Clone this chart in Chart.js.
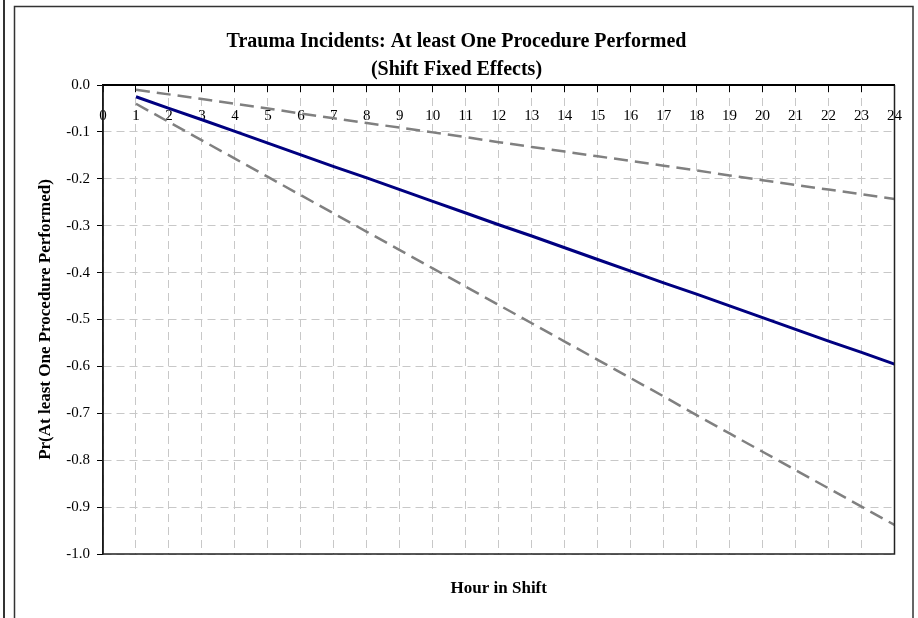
<!DOCTYPE html>
<html>
<head>
<meta charset="utf-8">
<script src="https://cdn.jsdelivr.net/npm/chart.js@4/dist/chart.umd.min.js"></script>
<style>
  html, body { margin: 0; padding: 0; background: #fff; }
  #wrap { width: 918px; height: 618px; position: relative; }
</style>
</head>
<body>
<div id="wrap"><canvas id="chart"></canvas></div>
<script>
const hours = [1, 2, 3, 4, 5, 6, 7, 8, 9, 10, 11, 12, 13, 14, 15, 16, 17, 18, 19, 20, 21, 22, 23, 24];
const estimate = [-0.025, -0.050, -0.074, -0.099, -0.124, -0.149, -0.174, -0.198, -0.223, -0.248, -0.273, -0.298,
  -0.322, -0.347, -0.372, -0.397, -0.422, -0.446, -0.471, -0.496, -0.521, -0.546, -0.570, -0.595];
const upperBound = [-0.010, -0.020, -0.030, -0.040, -0.050, -0.061, -0.071, -0.081, -0.091, -0.101, -0.111, -0.122,
  -0.132, -0.142, -0.152, -0.162, -0.172, -0.182, -0.193, -0.203, -0.213, -0.223, -0.233, -0.243];
const lowerBound = [-0.040, -0.079, -0.118, -0.157, -0.196, -0.235, -0.274, -0.313, -0.352, -0.391, -0.430, -0.469,
  -0.508, -0.547, -0.586, -0.625, -0.664, -0.704, -0.743, -0.782, -0.821, -0.860, -0.899, -0.938];
const xTicks = [0, 1, 2, 3, 4, 5, 6, 7, 8, 9, 10, 11, 12, 13, 14, 15, 16, 17, 18, 19, 20, 21, 22, 23, 24];
const yTicks = [0, -0.1, -0.2, -0.3, -0.4, -0.5, -0.6, -0.7, -0.8, -0.9, -1.0];

const serif = "'Liberation Serif', 'DejaVu Serif', serif";

function toPoints(vals) {
  return vals.map((v, i) => ({ x: hours[i], y: v }));
}

// outer frame + plot box
const framePlugin = {
  id: "frame",
  beforeDraw(chart) {
    const c = chart.ctx;
    c.save();
    c.fillStyle = "#fff";
    c.fillRect(0, 0, chart.width, chart.height);
    c.strokeStyle = "#333";
    c.lineWidth = 2;
    c.beginPath();
    c.moveTo(4, 0); c.lineTo(4, chart.height);
    c.stroke();
    c.lineWidth = 1.5;
    c.strokeRect(14.5, 6.5, 898.5, 700);
    c.restore();
  },
  afterDraw(chart) {
    const a = chart.chartArea;
    const c = chart.ctx;
    c.save();
    c.setLineDash([]);
    c.strokeStyle = "#222";
    c.lineWidth = 1.5;
    c.beginPath();
    c.moveTo(a.left, a.top); c.lineTo(a.left, a.bottom); c.lineTo(a.right, a.bottom); c.lineTo(a.right, a.top);
    c.stroke();
    c.strokeStyle = "#000";
    c.lineWidth = 2;
    c.beginPath();
    c.moveTo(a.left, a.top); c.lineTo(a.right, a.top);
    c.stroke();
    c.restore();
  }
};

new Chart(document.getElementById("chart").getContext("2d"), {
  type: "line",
  data: {
    datasets: [
      {
        label: "Estimate",
        data: toPoints(estimate),
        borderColor: "#000080",
        borderWidth: 3,
        pointRadius: 0,
        tension: 0
      },
      {
        label: "Upper",
        data: toPoints(upperBound),
        borderColor: "#808080",
        borderWidth: 2.5,
        borderDash: [14, 7],
        pointRadius: 0,
        tension: 0
      },
      {
        label: "Lower",
        data: toPoints(lowerBound),
        borderColor: "#808080",
        borderWidth: 2.5,
        borderDash: [14, 7],
        pointRadius: 0,
        tension: 0
      }
    ]
  },
  options: {
    responsive: true,
    maintainAspectRatio: false,
    animation: false,
    layout: { padding: { left: 14, right: 19, top: 0, bottom: 0 } },
    plugins: {
      legend: { display: false },
      tooltip: { enabled: false },
      title: {
        display: true,
        text: ["Trauma Incidents: At least One Procedure Performed", "(Shift Fixed Effects)"],
        color: "#000",
        font: { family: serif, size: 20, weight: "bold", lineHeight: 1.4 },
        padding: { top: 28, bottom: 1 }
      }
    },
    scales: {
      x: {
        type: "linear",
        position: { y: 0 },
        min: 0,
        max: 24,
        afterBuildTicks: s => { s.ticks = xTicks.map(v => ({ value: v })); },
        afterFit: s => { s.height = 0; },
        ticks: {
          autoSkip: false,
          maxRotation: 0,
          padding: 16,
          color: "#000",
          font: { family: serif, size: 15 }
        },
        grid: {
          color: "#c8c8c8",
          tickColor: "#000",
          tickBorderDash: [],
          tickLength: 6
        },
        border: { color: "#000", width: 2, dash: [8, 5] }
      },
      xb: {
        type: "linear",
        position: "bottom",
        min: 0,
        max: 24,
        ticks: { display: false },
        grid: { display: false },
        border: { display: false },
        afterFit: s => { s.height = 64; },
        title: {
          display: true,
          text: "Hour in Shift",
          color: "#000",
          font: { family: serif, size: 17, weight: "bold" },
          padding: { top: 0, bottom: 19 }
        }
      },
      y: {
        min: -1,
        max: 0,
        afterBuildTicks: s => { s.ticks = yTicks.map(v => ({ value: v })); },
        afterFit: s => { s.width = 89; },
        ticks: {
          padding: 7,
          color: "#000",
          font: { family: serif, size: 15 },
          callback: v => v.toFixed(1)
        },
        grid: {
          color: "#c8c8c8",
          tickColor: "#000",
          tickBorderDash: [],
          tickLength: 6
        },
        border: { color: "#000", width: 1.5, dash: [8, 5] },
        title: {
          display: true,
          text: "Pr(At least One Procedure Performed)",
          color: "#000",
          font: { family: serif, size: 17, weight: "bold" },
          padding: { top: 21, bottom: 0 }
        }
      }
    }
  },
  plugins: [framePlugin]
});
</script>
</body>
</html>
